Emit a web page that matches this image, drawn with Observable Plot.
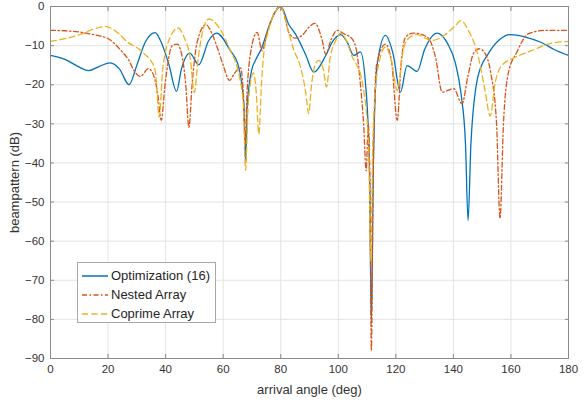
<!DOCTYPE html>
<html><head><meta charset="utf-8">
<script src="https://cdn.jsdelivr.net/npm/d3@7"></script>
<script src="https://cdn.jsdelivr.net/npm/@observablehq/plot@0.6"></script>
<style>
body{margin:0;background:#fff;}
#wrap{position:relative;width:586px;height:402px;font-family:"Liberation Sans",Arial,sans-serif;}
#legend{position:absolute;left:77px;top:262px;width:139px;height:61px;border:1px solid #a8a8a8;background:#fff;font-size:13px;color:#262626;box-sizing:border-box;}
#legend .row{position:absolute;left:3px;height:19px;display:flex;align-items:center;}
#legend svg{margin-right:3px;}
g[aria-label$="axis label"] text, g[aria-label$="axis label"]{font-size:13px;}
</style></head>
<body><div id="wrap"></div>
<script>
const xTicks = [0,20,40,60,80,100,120,140,160,180];
const yTicks = [0,-10,-20,-30,-40,-50,-60,-70,-80,-90];
const seriesNames = ["Optimization (16)","Nested Array","Coprime Array"];
const seriesColors = ["#0072BD","#D95319","#EDB120"];
const seriesDash = [null,"5,2.5,1.5,2.5","6,3.5"];

const optAngle = [0,5,10,13.2,17,20.7,24,27.3,30,33,36.4,38.2,41.1,43.8,45.5,48.4,51.5,55,57.7,62.5,65.1,67.2,67.8,68.4,70,71.2,73.5,75.9,78,80,82.8,85.1,88.6,91.5,95.6,98,100.8,103,105.4,107.7,109.5,110.8,111.5,112.2,113.5,116.4,119,121.6,123.9,127.4,130,134.4,138,140.7,142.6,144.2,145.1,146.1,148.5,152.2,156,159.7,165,170.6,175,180];
const optDb    = [-12.5,-13.5,-15.5,-16.4,-15.3,-14.4,-16,-20,-15,-9,-6.7,-8.7,-14.7,-21.7,-16,-11.9,-14.9,-8.7,-6.8,-11.3,-14.7,-25,-40,-25,-16,-13.8,-10.4,-5.1,-1.5,0,-4.6,-7,-12.2,-16.8,-12.6,-9,-7.2,-9,-12.5,-11.6,-20,-40,-81,-40,-15,-7.4,-12,-21.9,-15.1,-16.6,-11,-6.8,-9.5,-14.5,-22,-35,-54.7,-35,-18,-12,-8.5,-7.2,-7.8,-9.2,-11,-12.5];

const nestedAngle = [0,5,10.8,15,20.2,24.7,27,29.4,31.2,34,35.5,37.2,38.5,39.8,42.3,44,45.5,47,48.1,49.2,51,54,55.5,57.9,60,62.2,64,66,67,67.6,68.3,69.5,71.8,73.5,75.5,78,79.5,81,82.8,85.1,87.4,89.8,91.8,94.4,95.6,97.5,99.6,102,104.8,106.5,107.7,108.8,109.7,110.4,111,111.5,112.1,113.3,116.4,118.5,120.5,121.8,123.4,126.2,130.9,133.8,136.1,140.1,143,145,147,149,151,153,155,156.2,157.4,159.1,161.9,166,171.9,180];
const nestedDb    = [-6.1,-6.2,-6.6,-7.2,-8.3,-11.4,-13.5,-16.8,-17.9,-15.9,-17,-22,-29.1,-20,-10,-9.6,-12,-20,-30.9,-20,-9,-4.6,-6,-10.4,-15,-18.9,-17,-15.7,-22,-35,-22,-12,-6.6,-11.3,-6,-1.5,0,-1.5,-6.6,-8.1,-7.4,-5.3,-4.3,-8.6,-12.2,-8.5,-6.1,-7,-8.3,-12,-20,-30,-42,-30,-45,-88,-45,-15,-9.6,-14,-29.1,-15,-7.8,-6.8,-7.8,-13,-21.9,-21,-24.9,-18,-12,-10.8,-12,-17,-30,-54.2,-30,-17,-11.9,-7,-6.1,-6.1];

const coprimeAngle = [0,5,10.9,15,19,23,27.1,30,32.9,35,36.4,37.8,39,41.7,44.3,46.5,48.5,50,51.2,53,55,58.5,62.5,65,67,67.8,68.7,70.5,71.5,72.4,73.3,74,75.7,78,80,82.2,84.5,86.9,88.7,89.7,90.7,92,93.2,94.8,95.9,97.2,99,100.8,103,104.8,106,108.5,110.5,111.3,112,113.5,116.4,118.5,120.5,122.8,125,127.4,130,132.6,136.7,140.7,142.5,145.2,148.7,151,152.8,154.5,156.8,160.3,167.2,173,180];
const coprimeDb    = [-8.9,-8.2,-7,-5.8,-5.1,-6.5,-9.3,-10.5,-12.3,-14,-16.4,-28.3,-16,-7.7,-5.5,-8,-13,-22,-14,-6,-3.2,-5.3,-11.3,-16,-25,-41.9,-25,-17,-22,-32.6,-20,-12.8,-6.3,-1.5,0,-5.1,-11,-15.5,-22,-27.4,-20,-14.8,-13.8,-16,-20.6,-13,-8.9,-6.8,-9,-12.8,-14.3,-20,-35,-65,-35,-17,-10.4,-14,-21.5,-10.4,-7.8,-7.2,-8,-8.7,-7.4,-4.9,-3.6,-6.1,-13,-21.5,-28,-19.6,-15.1,-13.4,-11.3,-9.6,-8.9];

const toRows = (a, v) => a.map((x, i) => ({x, y: v[i]}));
const data = [toRows(optAngle, optDb), toRows(nestedAngle, nestedDb), toRows(coprimeAngle, coprimeDb)];

const chart = Plot.plot({
  width: 586, height: 402,
  marginLeft: 50, marginRight: 18, marginTop: 6, marginBottom: 44,
  style: {fontFamily: "Liberation Sans, Arial, sans-serif", fontSize: "11.5px", color: "#333", background: "#fff"},
  x: {domain: [0, 180]},
  y: {domain: [-90, 0]},
  marks: [
    Plot.gridX(xTicks, {stroke: "#e3e3e3", strokeOpacity: 1}),
    Plot.gridY(yTicks, {stroke: "#e3e3e3", strokeOpacity: 1}),
    ...data.map((d, i) => Plot.line(d, {x: "x", y: "y", stroke: seriesColors[i], strokeWidth: 1.3, strokeDasharray: seriesDash[i], curve: "monotone-x"})),
    Plot.frame({stroke: "#8a8a8a"}),
    Plot.axisX(xTicks, {anchor: "bottom", tickSize: -4, tickPadding: 10, stroke: "#8a8a8a", label: "arrival angle (deg)", labelAnchor: "center", labelArrow: "none", labelOffset: 35}),
    Plot.axisX(xTicks, {anchor: "top", tickSize: -4, stroke: "#8a8a8a", tickFormat: () => "", label: null}),
    Plot.axisY(yTicks, {anchor: "left", tickSize: -4, tickPadding: 10, stroke: "#8a8a8a", label: "beampattern (dB)", labelAnchor: "center", labelArrow: "none", labelOffset: 41}),
    Plot.axisY(yTicks, {anchor: "right", tickSize: -4, stroke: "#8a8a8a", tickFormat: () => "", label: null})
  ]
});
const wrap = document.getElementById("wrap");
wrap.appendChild(chart);

const legend = document.createElement("div");
legend.id = "legend";
seriesNames.forEach((name, i) => {
  const row = document.createElement("div");
  row.className = "row";
  row.style.top = (3 + i * 19) + "px";
  row.innerHTML = `<svg width="27" height="10"><line x1="1" y1="5" x2="27" y2="5" stroke="${seriesColors[i]}" stroke-width="1.5" ${seriesDash[i] ? `stroke-dasharray="${seriesDash[i]}"` : ""}/></svg><span>${name}</span>`;
  legend.appendChild(row);
});
wrap.appendChild(legend);
</script>
</body></html>
